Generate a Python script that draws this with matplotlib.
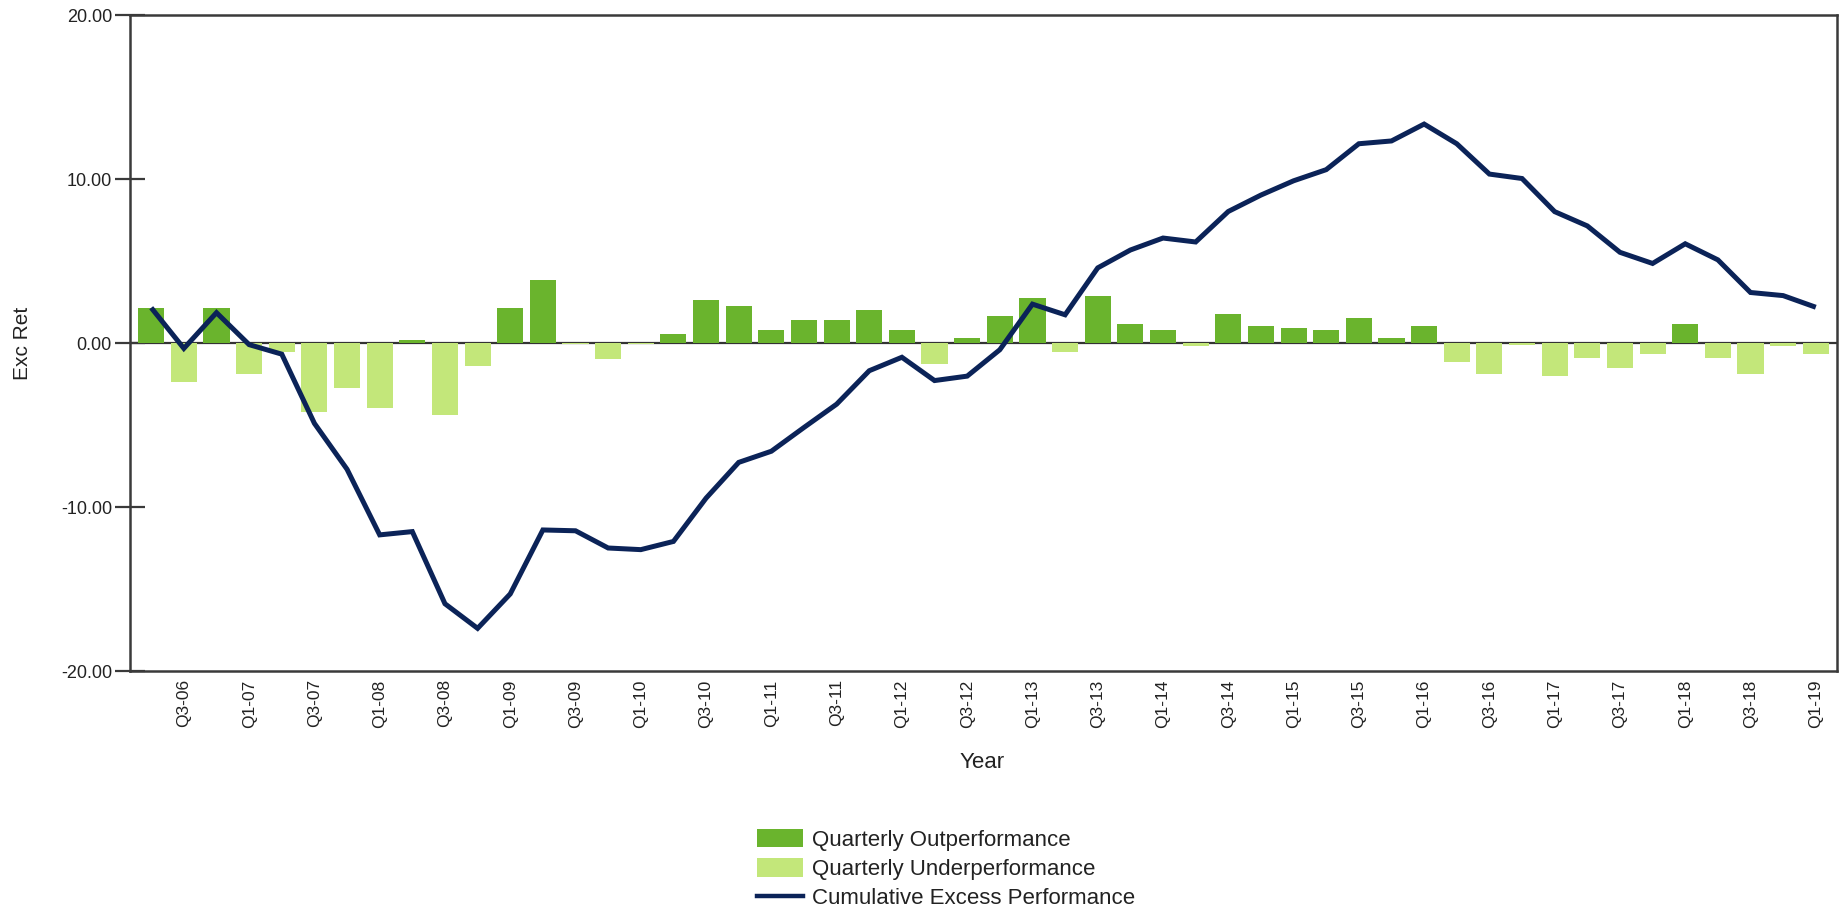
import matplotlib
matplotlib.use("Agg")
import matplotlib.pyplot as plt
from matplotlib.patches import Patch
from matplotlib.lines import Line2D

quarters = [
    "Q2-06", "Q3-06", "Q4-06", "Q1-07", "Q2-07", "Q3-07", "Q4-07", "Q1-08", "Q2-08", "Q3-08",
    "Q4-08", "Q1-09", "Q2-09", "Q3-09", "Q4-09", "Q1-10", "Q2-10", "Q3-10", "Q4-10", "Q1-11",
    "Q2-11", "Q3-11", "Q4-11", "Q1-12", "Q2-12", "Q3-12", "Q4-12", "Q1-13", "Q2-13", "Q3-13",
    "Q4-13", "Q1-14", "Q2-14", "Q3-14", "Q4-14", "Q1-15", "Q2-15", "Q3-15", "Q4-15", "Q1-16",
    "Q2-16", "Q3-16", "Q4-16", "Q1-17", "Q2-17", "Q3-17", "Q4-17", "Q1-18", "Q2-18", "Q3-18",
    "Q4-18", "Q1-19",
]

quarterly_excess = [
    2.15, -2.40, 2.15, -1.88, -0.52, -4.22, -2.75, -3.95, 0.16, -4.36,
    -1.42, 2.15, 3.87, -0.05, -1.00, -0.05, 0.55, 2.64, 2.26, 0.79,
    1.39, 1.39, 2.04, 0.79, -1.28, 0.30, 1.66, 2.75, -0.54, 2.89,
    1.17, 0.79, -0.19, 1.77, 1.04, 0.90, 0.79, 1.53, 0.30, 1.04,
    -1.14, -1.88, -0.14, -2.02, -0.90, -1.53, -0.65, 1.17, -0.90, -1.88,
    -0.16, -0.65,
]

cumulative_excess = [
    2.15, -0.33, 1.85, -0.10, -0.68, -4.90, -7.70, -11.70, -11.50, -15.90,
    -17.40, -15.30, -11.40, -11.45, -12.50, -12.60, -12.10, -9.46, -7.28, -6.60,
    -5.15, -3.73, -1.69, -0.87, -2.29, -2.02, -0.41, 2.37, 1.72, 4.58,
    5.67, 6.40, 6.16, 8.02, 9.02, 9.89, 10.57, 12.15, 12.32, 13.35,
    12.15, 10.30, 10.03, 8.01, 7.14, 5.53, 4.85, 6.05, 5.07, 3.08,
    2.89, 2.18,
]

y_ticks = [-20, -10, 0, 10, 20]

legend_labels = ["Quarterly Outperformance", "Quarterly Underperformance",
                 "Cumulative Excess Performance"]

DARK = "#6AB42D"
LIGHT = "#C3E77A"
NAVY = "#0B2358"
AXC = "#3A3A3A"
TXT = "#222222"

plt.rcParams["font.family"] = ["Liberation Sans", "DejaVu Sans"]

W, H = 1849, 910
fig = plt.figure(figsize=(W / 100, H / 100), dpi=100)
ax = fig.add_axes([130 / W, 1 - 671 / H, (1837 - 130) / W, (671 - 15) / H])

x = list(range(len(quarters)))
colors = [DARK if v >= 0 else LIGHT for v in quarterly_excess]
ax.axhline(0, color="#333333", lw=1.6, zorder=1)
ax.bar(x, quarterly_excess, width=0.8, color=colors, zorder=2, linewidth=0)
ax.plot(x, cumulative_excess, color=NAVY, lw=3.6, zorder=3,
        solid_joinstyle="miter", solid_capstyle="butt")

ax.set_xlim(-0.65, len(quarters) - 1 + 0.65)
ax.set_ylim(-20, 20)
ax.set_yticks(y_ticks)
ax.set_yticklabels([f"{v:.2f}" for v in y_ticks], fontsize=13, color=TXT)
ax.tick_params(axis="y", direction="inout", length=22, width=1.6, color=AXC, pad=2)

tick_pos = x[1::2]
ax.set_xticks(tick_pos)
ax.set_xticklabels(quarters[1::2], rotation=90, fontsize=12.5, color=TXT)
ax.tick_params(axis="x", length=0, pad=6)

for s in ax.spines.values():
    s.set_color(AXC)
    s.set_linewidth(1.8)

fig.text(982 / W, 1 - 762 / H, "Year", ha="center", va="center", fontsize=16, color=TXT)
fig.text(23 / W, 1 - 343 / H, "Exc Ret", ha="center", va="center", rotation=90,
         fontsize=15, color=TXT)

handles = [
    Patch(facecolor=DARK, edgecolor="none"),
    Patch(facecolor=LIGHT, edgecolor="none"),
    Line2D([0], [0], color=NAVY, lw=3.2),
]
leg = fig.legend(handles, legend_labels, loc="upper left",
                 bbox_to_anchor=(757 / W, 1 - 829 / H), frameon=False,
                 fontsize=16, handlelength=2.07, handleheight=0.9,
                 handletextpad=0.4, labelspacing=0.33, borderpad=0,
                 borderaxespad=0)
for t in leg.get_texts():
    t.set_color(TXT)

fig.savefig("out.png", dpi=100)
